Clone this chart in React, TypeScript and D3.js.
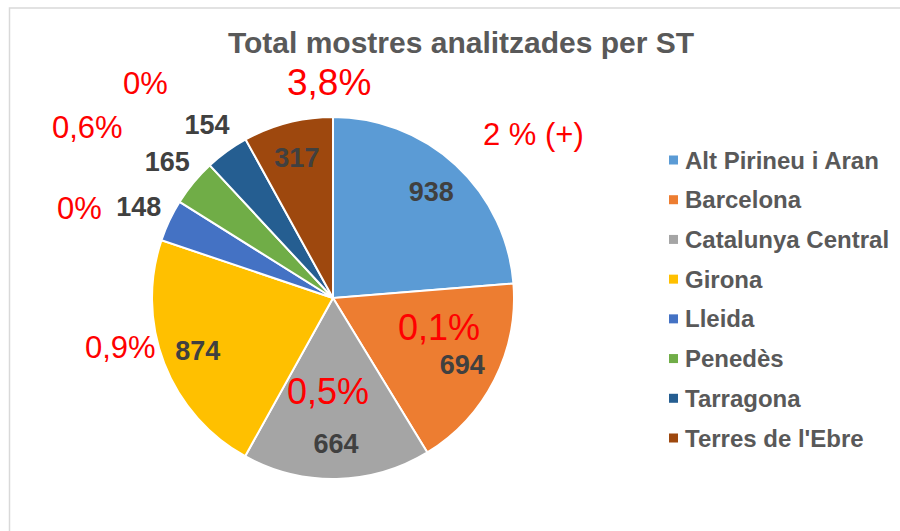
import * as d3 from 'd3';

const categories = [
  'Alt Pirineu i Aran',
  'Barcelona',
  'Catalunya Central',
  'Girona',
  'Lleida',
  'Penedès',
  'Tarragona',
  "Terres de l'Ebre",
];
const samples = [938, 694, 664, 874, 148, 165, 154, 317];
const colors = ['#5B9BD5', '#ED7D31', '#A5A5A5', '#FFC000', '#4472C4', '#70AD47', '#255E91', '#9E480E'];
// small slices get their label outside the pie (Excel "best fit")
const outside = [false, false, false, false, true, true, true, false];

// red notes typed on top of the chart
const notes = ['2 % (+)', '0,1%', '0,5%', '0,9%', '0%', '0,6%', '0%', '3,8%'];
const notePos = [
  { x: 483, y: 145, size: 31 },
  { x: 398, y: 340, size: 36 },
  { x: 287, y: 404, size: 36 },
  { x: 85, y: 358, size: 31 },
  { x: 57, y: 219, size: 31 },
  { x: 52, y: 138, size: 31 },
  { x: 123, y: 94, size: 31 },
  { x: 287, y: 95, size: 37 },
];

const W = 900;
const H = 531;
const cx = 333;
const cy = 298;
const radius = 181;

const App = () => {
  const pie = d3.pie<number>().sort(null).value((d) => d);
  const arcs = pie(samples);

  const arc = d3.arc<d3.PieArcDatum<number>>().innerRadius(0).outerRadius(radius);
  const inLabel = d3.arc<d3.PieArcDatum<number>>().innerRadius(145).outerRadius(145);
  const outLabel = d3.arc<d3.PieArcDatum<number>>().innerRadius(215).outerRadius(215);

  const legendY = d3.scalePoint<string>().domain(categories).range([160, 438]);

  return (
    <svg width={W} height={H} style={{ position: 'absolute', left: 0, top: 0 }} fontFamily="'Liberation Sans', Arial, sans-serif">
      <rect x={0} y={0} width={W} height={H} fill="#fff" />
      <rect x={9.5} y={8} width={W + 10} height={H + 10} fill="none" stroke="#d9d9d9" strokeWidth={1.5} />

      <text x={461} y={53} textAnchor="middle" fontSize={30} fontWeight="bold" fill="#595959">
        Total mostres analitzades per ST
      </text>

      <g transform={`translate(${cx},${cy})`}>
        {arcs.map((a, i) => (
          <path key={categories[i]} d={arc(a) || ''} fill={colors[i]} stroke="#fff" strokeWidth={2} />
        ))}
        {arcs.map((a, i) => {
          const [x, y] = (outside[i] ? outLabel : inLabel).centroid(a);
          return (
            <text
              key={'l' + i}
              x={x}
              y={y}
              dy="0.36em"
              textAnchor="middle"
              fontSize={27}
              fontWeight="bold"
              fill="#404040"
            >
              {a.data}
            </text>
          );
        })}
      </g>

      {notes.map((t, i) => (
        <text key={'n' + i} x={notePos[i].x} y={notePos[i].y} fontSize={notePos[i].size} fill="#FF0000">
          {t}
        </text>
      ))}

      <g>
        {categories.map((c, i) => (
          <g key={c} transform={`translate(669,${legendY(c)})`}>
            <rect x={0} y={-4.5} width={9} height={9} fill={colors[i]} />
            <text x={16} y={0} dy="0.36em" fontSize={24} fontWeight="bold" fill="#595959">
              {c}
            </text>
          </g>
        ))}
      </g>
    </svg>
  );
};

export default App;
